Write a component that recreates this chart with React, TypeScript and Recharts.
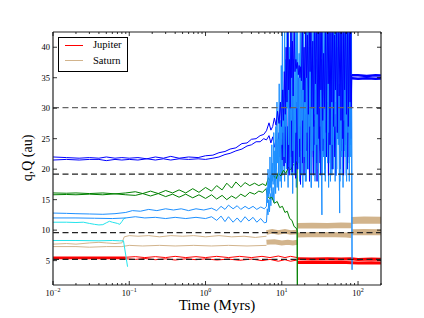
import { LineChart, Line, XAxis, YAxis, ReferenceLine } from 'recharts'

const FONT = '"Liberation Serif", "DejaVu Serif", serif'

// axis ticks
const xTicks = [
  0.01, 0.02, 0.03, 0.04, 0.05, 0.06, 0.07, 0.08, 0.09,
  0.1, 0.2, 0.3, 0.4, 0.5, 0.6, 0.7, 0.8, 0.9,
  1, 2, 3, 4, 5, 6, 7, 8, 9,
  10, 20, 30, 40, 50, 60, 70, 80, 90,
  100, 200,
]
const yTicks = [5, 10, 15, 20, 25, 30, 35, 40]

// semi-major axes of the present planets (au)
const planetOrbits = [5.2, 9.58, 19.2, 30.1]

// Jupiter (q, Q) in [time Myr, au]
const jupiterQEarly = [[0.01, 5.55], [0.03, 5.55], [0.06, 5.55], [0.09, 5.55]]
const jupiterqEarly = [[0.01, 5.35], [0.03, 5.35], [0.06, 5.35], [0.09, 5.35]]
const jupiterQMid = [
  [0.09, 5.55], [0.12, 5.65], [0.16, 5.5], [0.22, 5.65], [0.3, 5.5], [0.4, 5.7], [0.55, 5.5],
  [0.75, 5.65], [1, 5.5], [1.4, 5.7], [2, 5.5], [2.8, 5.7], [4, 5.5], [5.5, 5.7], [7, 5.5],
  [9, 5.75], [11, 5.5], [13, 5.7], [16, 5.5],
]
const jupiterqMid = [
  [0.09, 5.3], [0.12, 5.2], [0.16, 5.35], [0.22, 5.15], [0.3, 5.3], [0.4, 5.1], [0.55, 5.3],
  [0.75, 5.15], [1, 5.3], [1.4, 5.1], [2, 5.25], [2.8, 5.05], [4, 5.25], [5.5, 5.0], [7, 5.2],
  [9, 4.9], [11, 5.15], [13, 4.9], [16, 5.1],
]
const jupiterQLate = [[16, 5.3], [25, 5.25], [40, 5.3], [60, 5.25], [82, 5.3], [100, 5.2], [150, 5.25], [210, 5.2]]
const jupiterqLate = [[16, 4.7], [25, 4.75], [40, 4.7], [60, 4.75], [82, 4.65], [100, 4.6], [150, 4.65], [210, 4.6]]

// Saturn
const saturnQEarly = [
  [0.01, 7.7], [0.015, 7.8], [0.02, 7.7], [0.03, 7.9], [0.04, 8.0], [0.05, 7.9], [0.065, 7.8],
  [0.08, 7.9], [0.086, 8.9], [0.1, 9.1], [0.13, 9.0], [0.18, 9.1], [0.25, 8.9], [0.35, 9.1],
  [0.5, 9.0], [0.7, 9.1], [1, 8.9], [1.5, 9.1], [2.2, 8.9], [3.2, 9.0], [4.5, 8.8], [6.3, 9.0],
]
const saturnqEarly = [
  [0.01, 7.3], [0.02, 7.3], [0.03, 7.2], [0.05, 7.3], [0.08, 7.3], [0.1, 7.5], [0.15, 7.4],
  [0.25, 7.5], [0.4, 7.4], [0.7, 7.5], [1.2, 7.4], [2, 7.5], [3.5, 7.4], [6.3, 7.5],
]
const saturnQMid = [[6.3, 9.6], [7.5, 9.8], [9, 9.6], [11, 9.8], [13, 9.6], [16, 9.7]]
const saturnqMid = [[6.3, 8.0], [8, 8.1], [10, 7.9], [12, 8.0], [14, 7.9], [16, 8.0]]
const saturnQLate = [[16, 10.7], [25, 10.75], [40, 10.7], [60, 10.8], [82, 10.75]]
const saturnqLate = [[16, 9.2], [30, 9.3], [50, 9.25], [70, 9.2], [82, 9.1]]
const saturnQEnd = [[82, 11.6], [120, 11.65], [210, 11.6]]
const saturnqEnd = [[82, 9.65], [120, 9.7], [210, 9.65]]

// cyan planet, lost near 0.09 Myr
const cyanQ = [
  [0.01, 11.3], [0.015, 11.3], [0.02, 11.25], [0.025, 11.3], [0.03, 11.1], [0.035, 10.95],
  [0.04, 10.85], [0.045, 10.9], [0.05, 11.2], [0.055, 11.45], [0.06, 11.3], [0.065, 11.2],
  [0.07, 11.1], [0.075, 10.95], [0.08, 11.4], [0.085, 11.9], [0.09, 12.0],
]
const cyanq = [
  [0.01, 8.3], [0.02, 8.3], [0.04, 8.25], [0.06, 8.3], [0.075, 8.25], [0.084, 8.25], [0.095, 4.0],
]

// light blue planet, scattered from ~6 Myr, lost near 83 Myr
const lightBlueQ = [
  [0.01, 12.8], [0.015, 12.75], [0.02, 12.7], [0.03, 12.65], [0.045, 12.6], [0.065, 12.7],
  [0.09, 12.9], [0.11, 13.2], [0.14, 13.1], [0.18, 13.4], [0.23, 13.2], [0.3, 13.5], [0.38, 13.3],
  [0.48, 13.5], [0.6, 13.2], [0.75, 13.5], [0.95, 13.3], [1.2, 13.6], [1.4, 13.2], [1.6, 13.9],
  [1.8, 13.4], [2, 14.1], [2.3, 13.5], [2.6, 14.0], [2.9, 13.4], [3.3, 13.9], [3.7, 13.5],
  [4.2, 13.9], [4.7, 13.4], [5.3, 13.8], [5.9, 13.5],
  [6.3, 13.9], [6.4, 17], [6.5, 14.5], [6.6, 20], [6.7, 15.5], [6.8, 18], [6.9, 16], [7.0, 22],
  [7.1, 17], [7.2, 19], [7.3, 16.5], [7.4, 24], [7.5, 18], [7.6, 21], [7.7, 17.5], [7.85, 26],
  [8.0, 19], [8.1, 23], [8.2, 18], [8.35, 27], [8.5, 20], [8.65, 31], [8.8, 21], [8.95, 25],
  [9.1, 19], [9.25, 34], [9.4, 22], [9.55, 28], [9.7, 20], [9.85, 37], [10.0, 24], [10.2, 45],
  [10.35, 26], [10.5, 33], [10.7, 22], [10.9, 45], [11.1, 27], [11.3, 38], [11.5, 21], [11.7, 45],
  [11.9, 30], [12.1, 45], [12.3, 24], [12.6, 40], [12.9, 20], [13.1, 45], [13.4, 28], [13.7, 45],
  [14.0, 23], [14.3, 35], [14.6, 19], [14.9, 45], [15.2, 26], [15.5, 45], [15.8, 30], [16.1, 45],
  [16.5, 21], [16.9, 39], [17.2, 25], [17.6, 45], [18.0, 19], [18.4, 45], [18.8, 28], [19.2, 45],
  [19.6, 22], [20.0, 34], [20.4, 18], [20.9, 45], [21.3, 26], [21.8, 45], [22.3, 20], [22.8, 40],
  [23.3, 27], [23.8, 45], [24.3, 17], [24.9, 45], [25.4, 23], [26.0, 45], [26.5, 29], [27.1, 45],
  [27.7, 19], [28.3, 38], [28.9, 24], [29.5, 45], [30.1, 20], [30.8, 45], [31.5, 27], [32.2, 45],
  [32.9, 22], [33.6, 12.5], [34.2, 45], [35.0, 25], [35.8, 45], [36.6, 19], [37.4, 45], [38.2, 28],
  [39.0, 45], [39.9, 21], [40.8, 45], [41.7, 26], [42.6, 45], [43.5, 18], [44.5, 37], [45.5, 24],
  [46.5, 45], [47.5, 20], [48.6, 45], [49.7, 27], [50.8, 45], [51.9, 19], [53.0, 45], [54.2, 25],
  [55.4, 41], [56.6, 21], [57.4, 12.8], [58.2, 45], [59.5, 23], [60.8, 45], [62.1, 19], [63.5, 45],
  [64.9, 28], [66.3, 45], [67.8, 22], [69.3, 45], [70.8, 18], [72.4, 45], [74.0, 26], [75.6, 45],
  [77.3, 21], [79.0, 45], [80.5, 24], [82.0, 45], [83.5, 3.5],
]
const lightBlueq = [
  [0.01, 12.0], [0.02, 12.0], [0.035, 11.95], [0.06, 11.9], [0.09, 12.0], [0.12, 12.2],
  [0.16, 12.0], [0.22, 12.1], [0.3, 11.9], [0.4, 12.1], [0.55, 11.9], [0.75, 12.1], [1, 11.9],
  [1.2, 12.2], [1.4, 11.6], [1.6, 12.3], [1.8, 11.4], [2, 12.2], [2.3, 11.3], [2.6, 12.0],
  [2.9, 11.3], [3.3, 12.2], [3.7, 11.5], [4.2, 12.1], [4.7, 11.3], [5.3, 11.9], [5.9, 11.2],
  [6.3, 11.3], [6.45, 13.5], [6.6, 12.5], [6.75, 15], [6.9, 13], [7.05, 16], [7.2, 14], [7.35, 18],
  [7.5, 15], [7.7, 17], [7.9, 14.5], [8.1, 20], [8.3, 16], [8.5, 22], [8.7, 17], [8.9, 19],
  [9.1, 16.5], [9.3, 25], [9.5, 18], [9.7, 23], [9.9, 17], [10.1, 29], [10.3, 19], [10.6, 26],
  [10.9, 18], [11.2, 33], [11.5, 20], [11.8, 27], [12.1, 17], [12.4, 36], [12.7, 21], [13.0, 45],
  [13.3, 19], [13.6, 30], [13.9, 16], [14.3, 38], [14.7, 22], [15.1, 28], [15.5, 17], [15.9, 42],
  [16.3, 20], [16.7, 32], [17.1, 18], [17.5, 45], [17.9, 23], [18.4, 29], [18.9, 17], [19.4, 45],
  [19.9, 21], [20.4, 35], [20.9, 18], [21.5, 30], [22.1, 24], [22.7, 45], [23.3, 19], [23.9, 33],
  [24.5, 17], [25.2, 40], [25.9, 22], [26.6, 28], [27.3, 18], [28.0, 45], [28.8, 21], [29.6, 36],
  [30.4, 17], [31.2, 31], [32.0, 23], [32.8, 45], [33.6, 19], [34.5, 29], [35.4, 22], [36.3, 45],
  [37.2, 18], [38.1, 34], [39.1, 24], [40.1, 45], [41.1, 17], [42.1, 30], [43.2, 21], [44.3, 45],
  [45.4, 19], [46.5, 36], [47.7, 23], [48.9, 45], [50.1, 18], [51.3, 31], [52.6, 20], [53.9, 45],
  [55.2, 24], [56.5, 33], [57.9, 18], [59.3, 45], [60.7, 22], [62.1, 29], [63.6, 17], [65.1, 45],
  [66.7, 23], [68.3, 37], [69.9, 19], [71.6, 45], [73.3, 21], [75.0, 31], [76.8, 18], [78.6, 45],
  [80.3, 22], [81.9, 34], [83.5, 3.5],
]

// green planet, lost at ~16 Myr
const greenQ = [
  [0.01, 16.1], [0.015, 16.05], [0.02, 16.1], [0.03, 16.0], [0.045, 16.1], [0.065, 15.95],
  [0.09, 16.1], [0.12, 16.3], [0.15, 16.0], [0.19, 16.4], [0.24, 16.0], [0.3, 16.5], [0.37, 16.1],
  [0.45, 16.6], [0.55, 16.1], [0.68, 16.8], [0.82, 16.2], [1, 17.0], [1.2, 16.4], [1.4, 17.3],
  [1.65, 16.6], [1.9, 17.7], [2.2, 16.9], [2.5, 17.9], [2.9, 17.1], [3.3, 17.8], [3.8, 17.3],
  [4.4, 17.7], [5, 17.3], [5.6, 17.6], [6.2, 17.3], [6.7, 18.6], [7.2, 17.8], [7.8, 19.0],
  [8.4, 18.4], [9, 19.4], [9.7, 18.9], [10.5, 19.8], [11.3, 19.3], [12.2, 20.3], [13.2, 19.9],
  [14.2, 20.8], [15.2, 20.6], [15.9, 21.3], [16, 0],
]
const greenq = [
  [0.01, 15.8], [0.015, 15.85], [0.02, 15.8], [0.03, 15.9], [0.045, 15.8], [0.065, 15.95],
  [0.09, 15.8], [0.12, 15.7], [0.15, 16.0], [0.19, 15.6], [0.24, 16.0], [0.3, 15.5], [0.37, 15.9],
  [0.45, 15.4], [0.55, 15.9], [0.68, 15.3], [0.82, 15.8], [1, 15.2], [1.2, 15.8], [1.4, 15.1],
  [1.65, 15.7], [1.9, 15.0], [2.2, 15.6], [2.5, 15.2], [2.9, 15.9], [3.3, 15.5], [3.8, 16.2],
  [4.4, 15.9], [5, 16.4], [5.6, 16.2], [6.2, 16.8], [6.5, 15.6], [6.9, 15.2], [7.4, 15.4],
  [8, 14.4], [8.7, 14.7], [9.4, 13.7], [10.2, 13.9], [11, 12.9], [11.8, 13.1], [12.7, 11.9],
  [13.6, 11.6], [14.5, 10.6], [15.3, 10.4], [15.9, 10.0], [16, 0],
]

// dark blue planet, ends near 35 au
const blueQ = [
  [0.01, 22.0], [0.015, 21.9], [0.022, 21.8], [0.03, 21.9], [0.04, 21.8], [0.05, 22.0],
  [0.065, 21.8], [0.08, 21.9], [0.1, 21.8], [0.13, 21.9], [0.17, 21.7], [0.22, 22.0], [0.28, 21.8],
  [0.35, 22.1], [0.45, 21.8], [0.6, 22.0], [0.8, 21.9], [1, 22.2], [1.25, 22.3], [1.5, 22.7],
  [1.8, 22.9], [2.1, 23.3], [2.5, 23.5], [3, 24.2], [3.5, 24.3], [4, 24.9], [4.6, 25.0],
  [5.2, 25.5], [5.8, 25.7], [6.3, 26.3], [6.8, 27.6], [7.2, 26.4], [7.6, 27.0], [8, 28.4],
  [8.4, 27.2], [8.8, 29.5], [9.2, 27.5], [9.6, 31], [9.9, 27], [10.2, 33], [10.5, 28], [10.8, 36],
  [11.1, 29], [11.4, 40], [11.7, 31], [12.0, 45], [12.3, 33], [12.6, 38], [12.9, 30], [13.2, 45],
  [13.5, 35], [13.8, 41], [14.1, 32], [14.5, 45], [14.9, 36], [15.3, 38], [15.7, 36.5], [16.1, 37.5],
  [16.5, 35.5], [16.9, 37], [17.3, 35], [17.7, 36.8], [18.1, 34.5], [18.6, 45], [19.1, 33], [19.6, 40],
  [20.1, 31], [20.6, 45], [21.1, 35], [21.7, 42], [22.3, 29], [22.9, 45], [23.5, 36], [24.1, 45],
  [24.8, 30], [25.5, 41], [26.2, 27], [26.9, 45], [27.6, 34], [28.4, 45], [29.2, 29], [30.0, 43],
  [30.8, 25], [31.7, 45], [32.6, 33], [33.5, 45], [34.4, 28], [35.4, 39], [36.4, 30], [37.4, 45],
  [38.4, 26], [39.5, 45], [40.6, 34], [41.7, 45], [42.9, 24], [44.1, 45], [45.3, 31], [46.6, 45],
  [47.9, 27], [49.2, 42], [50.6, 33], [52.0, 45], [53.5, 26], [55.0, 45], [56.5, 32], [58.1, 45],
  [59.7, 28], [61.4, 45], [63.1, 25], [64.9, 45], [66.7, 33], [68.6, 45], [70.5, 29], [72.5, 45],
  [74.5, 27], [76.6, 45], [78.7, 31], [80.5, 45], [81.5, 30], [82.5, 35.4],
]
const blueq = [
  [0.01, 21.5], [0.015, 21.6], [0.022, 21.5], [0.03, 21.6], [0.04, 21.6], [0.05, 21.4],
  [0.065, 21.6], [0.08, 21.5], [0.1, 21.6], [0.13, 21.5], [0.17, 21.7], [0.22, 21.5], [0.28, 21.7],
  [0.35, 21.5], [0.45, 21.7], [0.6, 21.6], [0.8, 21.7], [1, 21.6], [1.25, 21.8], [1.5, 22.0],
  [1.8, 22.4], [2.1, 22.6], [2.5, 23.0], [3, 23.3], [3.5, 23.8], [4, 24.0], [4.6, 24.5],
  [5.2, 24.5], [5.8, 25.0], [6.3, 24.8], [6.8, 25.5], [7.2, 24.3], [7.6, 25.3], [8, 23.6],
  [8.4, 24.8], [8.8, 22.5], [9.2, 26], [9.5, 22], [9.8, 25], [10.1, 21.5], [10.4, 27], [10.7, 20.5],
  [11.0, 29], [11.3, 21], [11.6, 32], [11.9, 20], [12.2, 27], [12.5, 19], [12.8, 34], [13.1, 22],
  [13.4, 29], [13.7, 19.5], [14.0, 36], [14.4, 21], [14.8, 28], [15.2, 18.5], [15.6, 31], [16.0, 20],
  [16.4, 35], [16.8, 22], [17.2, 27], [17.6, 17.5], [18.1, 33], [18.6, 21], [19.1, 38], [19.6, 19],
  [20.1, 29], [20.7, 23], [21.3, 36], [21.9, 20], [22.5, 31], [23.1, 18], [23.8, 42], [24.5, 22],
  [25.2, 30], [25.9, 19], [26.6, 37], [27.4, 24], [28.2, 33], [29.0, 18], [29.8, 45], [30.7, 21],
  [31.6, 30], [32.5, 19], [33.4, 38], [34.4, 23], [35.4, 34], [36.4, 20], [37.5, 45], [38.6, 22],
  [39.7, 31], [40.9, 19], [42.1, 37], [43.3, 24], [44.6, 33], [45.9, 20], [47.2, 45], [48.6, 22],
  [50.0, 29], [51.5, 19], [53.0, 40], [54.5, 25], [56.1, 34], [57.7, 20], [59.4, 45], [61.1, 23],
  [62.9, 31], [64.7, 19], [66.6, 38], [68.5, 24], [70.5, 33], [72.5, 20], [74.6, 42], [76.7, 22],
  [78.9, 30], [81.0, 25], [82.5, 34.9],
]
const blueQEnd = [[82.5, 35.4], [100, 35.4], [130, 35.3], [170, 35.4], [210, 35.35]]
const blueqEnd = [[82.5, 34.9], [100, 34.85], [130, 34.9], [170, 34.85], [210, 34.9]]

const legendItems = [
  { name: 'Jupiter', color: '#ff0000' },
  { name: 'Saturn', color: '#d2b48c' },
]

const RED = '#ff0000'
const TAN = '#d2b48c'
const CYAN = '#22e4ec'
const LIGHTBLUE = '#1e90ff'
const GREEN = '#008000'
const BLUE = '#0000ff'

// drawing order: later entries sit on top
const series = [
  { id: 'sQe', data: saturnQEarly, color: TAN, width: 1 },
  { id: 'sqe', data: saturnqEarly, color: TAN, width: 1 },
  { id: 'sQm', data: saturnQMid, color: TAN, width: 4.5 },
  { id: 'sqm', data: saturnqMid, color: TAN, width: 5 },
  { id: 'sQl', data: saturnQLate, color: TAN, width: 5.5 },
  { id: 'sql', data: saturnqLate, color: TAN, width: 5 },
  { id: 'sQn', data: saturnQEnd, color: TAN, width: 7 },
  { id: 'sqn', data: saturnqEnd, color: TAN, width: 6 },
  { id: 'jQe', data: jupiterQEarly, color: RED, width: 1.5 },
  { id: 'jqe', data: jupiterqEarly, color: RED, width: 1.5 },
  { id: 'jQm', data: jupiterQMid, color: RED, width: 1 },
  { id: 'jqm', data: jupiterqMid, color: RED, width: 1 },
  { id: 'jQl', data: jupiterQLate, color: RED, width: 3 },
  { id: 'jql', data: jupiterqLate, color: RED, width: 3 },
  { id: 'cQ', data: cyanQ, color: CYAN, width: 1 },
  { id: 'cq', data: cyanq, color: CYAN, width: 1 },
  { id: 'lq', data: lightBlueq, color: LIGHTBLUE, width: 1 },
  { id: 'gQ', data: greenQ, color: GREEN, width: 1 },
  { id: 'gq', data: greenq, color: GREEN, width: 1 },
  { id: 'bq', data: blueq, color: BLUE, width: 1 },
  { id: 'lQ', data: lightBlueQ, color: LIGHTBLUE, width: 1 },
  { id: 'bQ', data: blueQ, color: BLUE, width: 1 },
  { id: 'bQn', data: blueQEnd, color: BLUE, width: 2.5 },
  { id: 'bqn', data: blueqEnd, color: BLUE, width: 2.5 },
]

const toPoints = (arr: number[][]) => arr.map(([t, v]) => ({ t, v }))

const isMajor = (v: number) => Math.abs(Math.log10(v) - Math.round(Math.log10(v))) < 1e-6

function BottomTick({ x, y, payload }: any) {
  const v = payload.value
  const major = isMajor(v)
  const axisY = y - 3
  const exp = Math.round(Math.log10(v))
  return (
    <g>
      <line x1={x} x2={x} y1={axisY} y2={axisY - (major ? 4 : 2)} stroke="#000" strokeWidth={0.8} />
      {major && (
        <text x={x} y={axisY + 10.5} textAnchor="middle" fontSize={8.5} fontFamily={FONT} fill="#000">
          <tspan>10</tspan>
          <tspan dy={-3.5} fontSize={6}>{exp < 0 ? `\u2212${-exp}` : exp}</tspan>
        </text>
      )}
    </g>
  )
}

function TopTick({ x, y, payload }: any) {
  const major = isMajor(payload.value)
  return <line x1={x} x2={x} y1={y} y2={y + (major ? 4 : 2)} stroke="#000" strokeWidth={0.8} />
}

function LeftTick({ x, y, payload }: any) {
  const axisX = x + 3
  return (
    <g>
      <line x1={axisX} x2={axisX + 4} y1={y} y2={y} stroke="#000" strokeWidth={0.8} />
      <text x={x} y={y} dy={3} textAnchor="end" fontSize={8.5} fontFamily={FONT} fill="#000">
        {payload.value}
      </text>
    </g>
  )
}

function RightTick({ x, y }: any) {
  return <line x1={x - 4} x2={x} y1={y} y2={y} stroke="#000" strokeWidth={0.8} />
}

function LegendBox() {
  return (
    <div
      style={{
        position: 'absolute', left: 58, top: 37, width: 70, height: 35,
        border: '1px solid #000', background: '#fff', boxSizing: 'border-box',
        fontFamily: FONT, fontSize: 10.5, color: '#000',
      }}
    >
      {legendItems.map((item, i) => (
        <div
          key={item.name}
          style={{ position: 'absolute', left: 6, top: 1 + i * 15.5, height: 12, display: 'flex', alignItems: 'center' }}
        >
          <span style={{ display: 'inline-block', width: 18, height: 1, background: item.color }} />
          <span style={{ marginLeft: 10, lineHeight: '12px' }}>{item.name}</span>
        </div>
      ))}
    </div>
  )
}

export default function App() {
  const axisLine = { stroke: '#222', strokeWidth: 1.2 }
  return (
    <div style={{ position: 'absolute', left: 0, top: 0, width: 424, height: 318, background: '#fff' }}>
      <LineChart width={424} height={318} margin={{ top: 31, right: 42, bottom: 32, left: 52 }}>
        <XAxis
          dataKey="t" type="number" scale="log" domain={[0.01, 200]} allowDataOverflow
          ticks={xTicks} interval={0} height={1} tickSize={0} tickMargin={3}
          axisLine={axisLine} tickLine={false} tick={(p: any) => <BottomTick {...p} />}
        />
        <XAxis
          xAxisId="top" orientation="top" dataKey="t" type="number" scale="log" domain={[0.01, 200]}
          allowDataOverflow ticks={xTicks} interval={0} height={1} tickSize={0} tickMargin={0}
          axisLine={axisLine} tickLine={false} tick={(p: any) => <TopTick {...p} />}
        />
        <YAxis
          type="number" domain={[1, 42.5]} allowDataOverflow ticks={yTicks} interval={0}
          width={1} tickSize={0} tickMargin={3} axisLine={axisLine} tickLine={false}
          tick={(p: any) => <LeftTick {...p} />}
        />
        <YAxis
          yAxisId="right" orientation="right" type="number" domain={[1, 42.5]} allowDataOverflow
          ticks={yTicks} interval={0} width={1} tickSize={0} tickMargin={0} axisLine={axisLine}
          tickLine={false} tick={(p: any) => <RightTick {...p} />}
        />
        {series.map((s) => (
          <Line
            key={s.id}
            data={toPoints(s.data)}
            dataKey="v"
            type="linear"
            stroke={s.color}
            strokeWidth={s.width}
            dot={false}
            activeDot={false}
            isAnimationActive={false}
          />
        ))}
        {planetOrbits.map((a) => (
          <ReferenceLine
            key={a}
            y={a}
            stroke={a > 25 ? '#666' : '#222'}
            strokeWidth={1.2}
            strokeDasharray="6 3.5"
          />
        ))}
      </LineChart>
      <LegendBox />
      <div
        style={{
          position: 'absolute', left: 53, width: 328, top: 298, textAlign: 'center',
          fontFamily: FONT, fontSize: 15, lineHeight: '15px', color: '#000',
        }}
      >
        Time (Myrs)
      </div>
      <div
        style={{
          position: 'absolute', left: -32, top: 150, width: 120, height: 16, textAlign: 'center',
          fontFamily: FONT, fontSize: 14, lineHeight: '16px', color: '#000', transform: 'rotate(-90deg)',
        }}
      >
        q,Q (au)
      </div>
    </div>
  )
}
